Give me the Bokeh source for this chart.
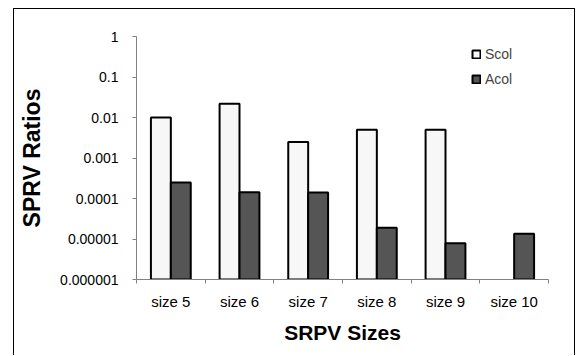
from bokeh.plotting import figure
from bokeh.models import (ColumnDataSource, FixedTicker, CustomJSTickFormatter,
                          Legend, LegendItem, Range1d)
from bokeh.embed import file_html
from bokeh.resources import INLINE

categories = ["size 5", "size 6", "size 7", "size 8", "size 9", "size 10"]
scol = [0.01, 0.022, 0.0025, 0.005, 0.005, float("nan")]
acol = [0.00025, 0.000143, 0.00014, 0.000019, 0.0000078, 0.0000135]
y_ticks = [1e-6, 1e-5, 1e-4, 1e-3, 1e-2, 1e-1, 1.0]
y_labels = ["0.000001", "0.00001", "0.0001", "0.001", "0.01", "0.1", "1"]

idx = list(range(len(categories)))
src = ColumnDataSource(dict(
    xs=[i + 0.355 for i in idx],
    xa=[i + 0.645 for i in idx],
    scol=scol, acol=acol,
    base=[1e-6] * len(idx),
))

p = figure(width=562, height=347, output_backend="svg", toolbar_location=None,
           y_axis_type="log", x_range=Range1d(0, len(categories)),
           y_range=Range1d(1e-6, 1.0),
           min_border_left=122, min_border_right=28, min_border_top=27,
           min_border_bottom=77,
           styles={"margin-left": "13px", "margin-top": "8px",
                   "border-top": "1px solid #000",
                   "border-left": "1px solid #000", "border-right": "1px solid #000"})
p.outline_line_color = None
p.xgrid.visible = False
p.ygrid.visible = False
p.background_fill_color = "white"
p.border_fill_color = "white"

rs = p.vbar(x="xs", top="scol", bottom="base", width=0.29, source=src,
            fill_color="#f7f7f7", line_color="black", line_width=2)
ra = p.vbar(x="xa", top="acol", bottom="base", width=0.29, source=src,
            fill_color="#555555", line_color="black", line_width=2)

# x axis: ticks at boundaries, labels at centres
xa = p.xaxis[0]
xa.ticker = FixedTicker(ticks=[i + 0.5 for i in idx], minor_ticks=list(range(len(categories) + 1)))
xa.major_label_overrides = {i + 0.5: c for i, c in zip(idx, categories)}
xa.major_tick_line_color = None
xa.minor_tick_in = 0
xa.minor_tick_out = 4
xa.minor_tick_line_color = "#808080"
xa.axis_line_color = "#808080"
xa.major_label_text_font = "Liberation Sans"
xa.major_label_text_font_size = "15px"
xa.major_label_text_color = "black"
xa.major_label_standoff = 7
xa.axis_label = "SRPV Sizes"
xa.axis_label_text_font = "Liberation Sans"
xa.axis_label_text_font_style = "bold"
xa.axis_label_text_font_size = "21px"
xa.axis_label_text_color = "black"
xa.axis_label_standoff = 8

ya = p.yaxis[0]
ya.ticker = FixedTicker(ticks=y_ticks, minor_ticks=[])
ya.formatter = CustomJSTickFormatter(args=dict(labels=y_labels),
                                     code="return labels[Math.round(Math.log10(tick)) + 6];")
ya.major_tick_in = 0
ya.major_tick_out = 4
ya.major_tick_line_color = "#808080"
ya.minor_tick_line_color = None
ya.axis_line_color = "#808080"
ya.major_label_text_font = "Liberation Sans"
ya.major_label_text_font_size = "14px"
ya.major_label_text_color = "black"
ya.major_label_standoff = 14
ya.axis_label = "SPRV Ratios"
ya.axis_label_text_font = "Liberation Sans"
ya.axis_label_text_font_style = "bold"
ya.axis_label_text_font_size = "23px"
ya.axis_label_text_color = "black"
ya.axis_label_standoff = 12

legend = Legend(items=[LegendItem(label="Scol", renderers=[rs]),
                       LegendItem(label="Acol", renderers=[ra])],
                location=(335, 192), glyph_width=10, glyph_height=10,
                label_text_font="Liberation Sans", label_text_font_size="14px",
                spacing=9, padding=0, margin=0, label_standoff=4,
                border_line_color=None, background_fill_alpha=0)
p.add_layout(legend, "center")

open("out.html", "w").write(file_html(p, INLINE))
